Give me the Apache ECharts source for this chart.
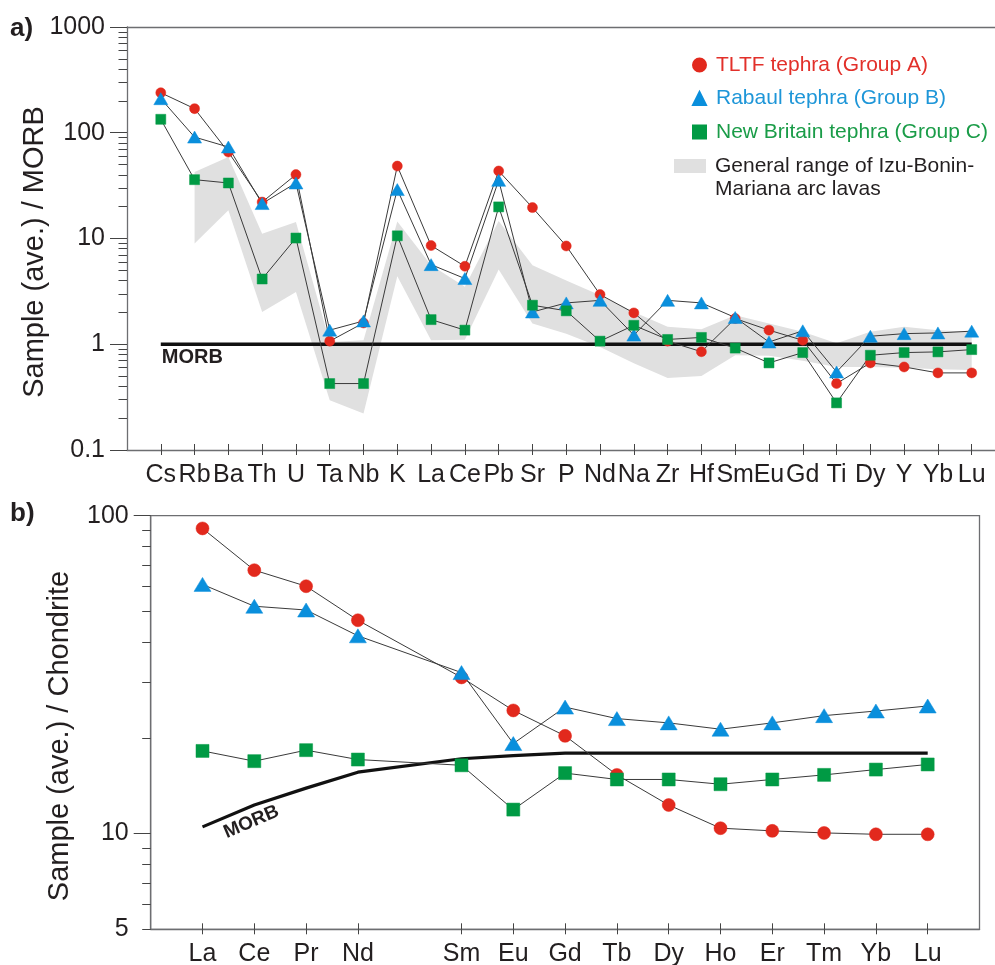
<!DOCTYPE html>
<html>
<head>
<meta charset="utf-8">
<title>Trace element and REE patterns of tephra groups</title>
<script src="https://cdn.jsdelivr.net/npm/echarts@6/dist/echarts.min.js"></script>
<style>
  html, body { margin: 0; padding: 0; background: #fff; }
  #chart { width: 995px; height: 965px; }
</style>
</head>
<body>
<div id="chart"></div>
<script>
// ---- a) MORB-normalised trace elements ----
const traceElements = ['Cs','Rb','Ba','Th','U','Ta','Nb','K','La','Ce','Pb','Sr','P','Nd','Na','Zr','Hf','Sm','Eu','Gd','Ti','Dy','Y','Yb','Lu'];
const tltfMorb       = [239, 169, 65.7, 22.1, 40.2, 1.07, 1.59, 48.4, 8.57, 5.46, 43.5, 19.6, 8.5, 2.95, 1.98, 1.07, 0.85, 1.75, 1.36, 1.09, 0.425, 0.666, 0.61, 0.536, 0.536];
const rabaulMorb     = [210, 91, 73.3, 21.4, 33.5, 1.36, 1.66, 29, 5.66, 4.18, 35.5, 2.02, 2.46, 2.6, 1.22, 2.6, 2.46, 1.79, 1.05, 1.34, 0.547, 1.19, 1.26, 1.28, 1.33];
const newBritainMorb = [134, 36, 33.5, 4.14, 10.1, 0.425, 0.425, 10.6, 1.71, 1.36, 19.9, 2.34, 2.07, 1.07, 1.51, 1.11, 1.16, 0.92, 0.666, 0.834, 0.279, 0.787, 0.834, 0.847, 0.89];
const morbReference  = [1, 1, 1, 1, 1, 1, 1, 1, 1, 1, 1, 1, 1, 1, 1, 1, 1, 1, 1, 1, 1, 1, 1, 1, 1];
// Izu-Bonin-Mariana arc lava envelope (no Cs data)
const ibmUpper = [null, 42.5, 58.9, 11.1, 14.3, 1.05, 1.09, 14.5, 5.6, 3.5, 14.6, 5.6, 4.0, 2.9, 2.02, 1.46, 1.39, 1.88, 1.57, 1.31, 1.02, 1.31, 1.46, 1.36, 1.31];
const ibmLower = [null, 8.95, 18.5, 2.02, 3.12, 0.296, 0.221, 4.4, 1.09, 1.1, 5.08, 1.57, 1.26, 0.94, 0.66, 0.48, 0.5, 0.787, 0.78, 0.7, 0.61, 0.61, 0.6, 0.58, 0.57];
const morbTicks = [0.1, 1, 10, 100, 1000];

// ---- b) Chondrite-normalised REE (Pm not analysed) ----
const reeElements     = ['La','Ce','Pr','Nd','Pm','Sm','Eu','Gd','Tb','Dy','Ho','Er','Tm','Yb','Lu'];
const tltfChondrite   = [91.2, 67.4, 60.0, 46.9, null, 31.0, 24.4, 20.3, 15.3, 12.3, 10.4, 10.2, 10.05, 9.95, 9.95];
const rabaulChondrite = [60.8, 51.9, 50.5, 41.9, null, 32.1, 19.2, 25.0, 23.0, 22.3, 21.3, 22.3, 23.5, 24.3, 25.2];
const nbChondrite     = [18.2, 16.9, 18.3, 17.1, null, 16.4, 11.9, 15.5, 14.8, 14.8, 14.3, 14.8, 15.3, 15.9, 16.5];
const morbChondrite   = [10.5, 12.3, 13.9, 15.6, null, 17.2, 17.6, 17.9, 17.9, 17.9, 17.9, 17.9, 17.9, 17.9, 17.9];
const chondriteLabelTicks = [5, 10, 100];
const chondriteMajorTicks = [10, 100];

const seriesNames = ['TLTF tephra (Group A)', 'Rabaul tephra (Group B)', 'New Britain tephra (Group C)'];
const bandName = 'General range of Izu-Bonin-\nMariana arc lavas';

// ---- styling ----
const FONT = '"Liberation Sans", Arial, Helvetica, sans-serif';
const INK = '#231f20';
const AXIS = '#6d6e71';
const RED = '#e2291d';
const BLUE = '#0a8fdc';
const GREEN = '#009a44';
const BAND = '#e0e0e0';
const LINK = '#3a3a3a';

// logarithmic minor ticks (2..9 within each decade)
function minorLogTicks(lo, hi) {
  const out = [];
  for (let d = lo; d < hi; d *= 10) {
    for (let k = 2; k <= 9; k++) {
      const v = +(k * d).toPrecision(3);
      if (v <= hi) out.push(v);
    }
  }
  return out;
}
const pairs = (arr) => arr.map((v, i) => [i, v]);
const traceIdx = traceElements.map((_, i) => i);
const reeIdx = reeElements.map((_, i) => i).filter(i => tltfChondrite[i] != null);

const bandData = traceIdx.filter(i => ibmUpper[i] != null).map(i => [i, ibmLower[i], ibmUpper[i]]);

function renderBand(params, api) {
  if (params.dataIndex !== 0) return null;
  const top = bandData.map(d => api.coord([d[0], d[2]]));
  const bottom = bandData.map(d => api.coord([d[0], d[1]])).reverse();
  return { type: 'polygon', shape: { points: top.concat(bottom) }, style: { fill: BAND } };
}

function valueX(gridIndex, max, ticks, labels, margin) {
  return {
    type: 'value', gridIndex, min: -1, max, position: 'bottom',
    axisLine: { show: true, onZero: false, lineStyle: { color: AXIS, width: 1.3 } },
    axisTick: { show: true, length: 5, customValues: ticks, lineStyle: { color: '#444', width: 1 } },
    axisLabel: { show: true, customValues: ticks, formatter: v => labels[v] || '', color: INK, fontSize: 25, fontFamily: FONT, margin },
    splitLine: { show: false }
  };
}
function innerTicksX(gridIndex, max, ticks) {
  return {
    type: 'value', gridIndex, min: -1, max, position: 'bottom',
    axisLine: { show: false, onZero: false },
    axisTick: { show: true, inside: true, length: 6, customValues: ticks, lineStyle: { color: '#444', width: 1 } },
    axisLabel: { show: false }, splitLine: { show: false }
  };
}
function logY(gridIndex, min, max, majors, labels, margin) {
  return {
    type: 'log', logBase: 10, gridIndex, min, max, position: 'left',
    axisLine: { show: true, onZero: false, lineStyle: { color: AXIS, width: 1.3 } },
    axisTick: { show: true, length: 17, customValues: majors, lineStyle: { color: '#444', width: 1 } },
    axisLabel: { show: true, customValues: labels, formatter: v => String(v), color: INK, fontSize: 25, fontFamily: FONT, margin },
    splitLine: { show: false }
  };
}
function minorY(gridIndex, min, max, ticks) {
  return {
    type: 'log', logBase: 10, gridIndex, min, max, position: 'left', offset: 0,
    axisLine: { show: false, onZero: false },
    axisTick: { show: true, length: 8.5, customValues: ticks, lineStyle: { color: '#444', width: 1 } },
    axisLabel: { show: false }, splitLine: { show: false }
  };
}

function markerSeries(name, data, xi, yi, symbol, size, color) {
  return {
    name, type: 'line', xAxisIndex: xi, yAxisIndex: yi, data,
    symbol, symbolSize: size, showSymbol: true, connectNulls: true,
    itemStyle: { color, borderColor: color, borderWidth: 0.5 },
    lineStyle: { color: LINK, width: 1 },
    emphasis: { disabled: true }, silent: true, z: 3
  };
}

const option = {
  animation: false,
  backgroundColor: '#ffffff',
  textStyle: { fontFamily: FONT },
  grid: [
    { left: 127, top: 27, width: 878.5, height: 423, outerBoundsMode: 'none', containLabel: false },
    { left: 150.7, top: 515.7, width: 828.8, height: 413.6, show: true, borderColor: AXIS, borderWidth: 1.3,
      backgroundColor: 'transparent', outerBoundsMode: 'none', containLabel: false }
  ],
  xAxis: [
    valueX(0, 25, traceIdx, traceElements, 13),
    innerTicksX(0, 25, traceIdx),
    { type: 'value', gridIndex: 0, min: -1, max: 25, position: 'top',
      axisLine: { show: true, onZero: false, lineStyle: { color: AXIS, width: 1.3 } },
      axisTick: { show: false }, axisLabel: { show: false }, splitLine: { show: false } },
    valueX(1, 15, reeIdx, reeElements, 12),
    innerTicksX(1, 15, reeIdx)
  ],
  yAxis: [
    logY(0, 0.1, 1000, morbTicks, morbTicks, 22),
    minorY(0, 0.1, 1000, minorLogTicks(0.1, 1000)),
    logY(1, 5, 100, chondriteMajorTicks, chondriteLabelTicks, 22),
    minorY(1, 5, 100, minorLogTicks(1, 100).filter(v => v >= 5))
  ],
  legend: [
    {
      orient: 'vertical', left: 692, top: 54.5, padding: 0, itemGap: 12.5,
      itemWidth: 13, itemHeight: 13, selectedMode: false,
      textStyle: { fontSize: 21, fontFamily: FONT, padding: [0, 0, 0, 5] },
      data: [
        { name: seriesNames[0], icon: 'circle', itemStyle: { color: RED }, textStyle: { color: '#e2302a' } },
        { name: seriesNames[1], icon: 'triangle', itemStyle: { color: BLUE }, textStyle: { color: '#1e96d8' } },
        { name: seriesNames[2], icon: 'rect', itemStyle: { color: GREEN }, textStyle: { color: '#1a9c48' } }
      ]
    }
  ],
  series: [
    {
      name: bandName, type: 'custom', xAxisIndex: 0, yAxisIndex: 0,
      data: bandData, encode: { x: 0, y: [1, 2] },
      renderItem: renderBand, itemStyle: { color: BAND }, silent: true, z: 1
    },
    {
      name: 'MORB', type: 'line', xAxisIndex: 0, yAxisIndex: 0, data: pairs(morbReference),
      symbol: 'none', lineStyle: { color: '#111', width: 3.5 }, silent: true, z: 2
    },
    markerSeries(seriesNames[0], pairs(tltfMorb), 0, 0, 'circle', 10, RED),
    markerSeries(seriesNames[1], pairs(rabaulMorb), 0, 0, 'triangle', [14, 12], BLUE),
    markerSeries(seriesNames[2], pairs(newBritainMorb), 0, 0, 'rect', 10, GREEN),
    {
      name: 'MORB (chondrite)', type: 'line', xAxisIndex: 3, yAxisIndex: 2, data: pairs(morbChondrite),
      connectNulls: true, symbol: 'none', lineStyle: { color: '#111', width: 3.2 }, silent: true, z: 2
    },
    markerSeries(seriesNames[0], pairs(tltfChondrite), 3, 2, 'circle', 13, RED),
    markerSeries(seriesNames[1], pairs(rabaulChondrite), 3, 2, 'triangle', [17, 14], BLUE),
    markerSeries(seriesNames[2], pairs(nbChondrite), 3, 2, 'rect', 13, GREEN)
  ]
};

const chart = echarts.init(document.getElementById('chart'), null, { renderer: 'canvas' });
chart.setOption(option);

// Panel letters, axis titles, envelope key and MORB curve labels
const morbA = chart.convertToPixel({ xAxisIndex: 0, yAxisIndex: 0 }, [0, morbReference[0]]);
const morbB = chart.convertToPixel({ xAxisIndex: 3, yAxisIndex: 2 }, [1, morbChondrite[1]]);
const txt = (id, x, y, text, font, opts) => {
  const o = opts || {};
  return {
    type: 'text', id, x, y, rotation: o.rotation || 0, silent: true, z: 10,
    style: { text, font, fill: INK, align: o.align || 'left', verticalAlign: 'middle', lineHeight: o.lineHeight }
  };
};

chart.setOption({
  graphic: [
    txt('panelA', 10, 29, 'a)', 'bold 26px ' + FONT),
    txt('panelB', 10, 514, 'b)', 'bold 26px ' + FONT),
    txt('titleA', 35, 252, 'Sample (ave.) / MORB', '29px ' + FONT, { rotation: Math.PI / 2, align: 'center' }),
    txt('titleB', 60, 736, 'Sample (ave.) / Chondrite', '29px ' + FONT, { rotation: Math.PI / 2, align: 'center' }),
    txt('morbA', morbA[0] + 1, morbA[1] + 13, 'MORB', 'bold 20px ' + FONT),
    txt('morbB', morbB[0] - 3, morbB[1] + 17, 'MORB', 'bold 19px ' + FONT, { rotation: 23 * Math.PI / 180, align: 'center' }),
    { type: 'rect', id: 'bandKey', x: 674, y: 159, shape: { width: 32, height: 14 }, style: { fill: BAND }, silent: true, z: 10 },
    {
      type: 'text', id: 'bandKeyText', x: 715, y: 154.5, silent: true, z: 10,
      style: { text: bandName, font: '21px ' + FONT, fill: INK, align: 'left', verticalAlign: 'top', lineHeight: 23 }
    }
  ]
});
</script>
</body>
</html>
